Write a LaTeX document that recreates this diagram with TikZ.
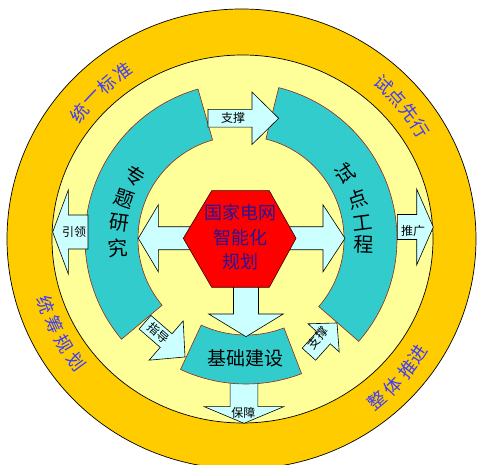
\documentclass[tikz,border=0pt]{standalone}
\usepackage{fontspec}
\newfontfamily\cjk{Noto Sans CJK SC}
\definecolor{ringorange}{RGB}{255,204,0}
\definecolor{ringyellow}{RGB}{255,255,153}
\definecolor{tealfill}{RGB}{51,204,204}
\definecolor{tealedge}{RGB}{150,40,20}
\definecolor{arrowcyan}{RGB}{204,255,255}
\definecolor{hexred}{RGB}{255,0,0}
\definecolor{hexblue}{RGB}{40,20,150}
\definecolor{ringblue}{RGB}{60,60,255}
\newcommand{\blockarr}[7]{%
  \begin{scope}[shift={(#1,#2)},rotate=#3]
    \draw[arrowshape] (0,-#7) -- ({#4-#5},-#7) -- ({#4-#5},-#6) -- (#4,0) -- ({#4-#5},#6) -- ({#4-#5},#7) -- (0,#7) -- cycle;
  \end{scope}}
\begin{document}
\begin{tikzpicture}[x=1pt,y=1pt,
  arrowshape/.style={fill=arrowcyan,draw=black,line width=0.6pt,line join=miter},
  tealshape/.style={fill=tealfill,draw=tealedge,line width=0.6pt},
  lbl/.style={font=\cjk\fontsize{12}{12}\selectfont,inner sep=0pt},
  ringtxt/.style={font=\cjk\fontsize{18}{18}\selectfont,text=ringblue,inner sep=0pt},
  arctxt/.style={font=\cjk\fontsize{20}{20}\selectfont,inner sep=0pt}]
\useasboundingbox (0,0) rectangle (477,465);
% rings
\draw[fill=ringorange,line width=0.7pt] (241.5,226) ellipse[x radius=234.5,y radius=230];
\draw[fill=ringyellow,line width=0.7pt] (242.5,226) ellipse[x radius=190.5,y radius=184];
% teal arcs
\begin{scope}[shift={(241,226)}]
  \draw[tealshape] (106:156) arc[start angle=106,end angle=220,radius=156] -- (220:103) arc[start angle=220,end angle=106,radius=103] -- cycle;
  \draw[tealshape] (-41:156) arc[start angle=-41,end angle=76,radius=156] -- (76:103) arc[start angle=76,end angle=-41,radius=103] -- cycle;
\end{scope}
% bottom arrow (baozhang) under the base block
\blockarr{244}{90}{-90}{48.3}{16.6}{39.7}{13.9}
% base block
\begin{scope}[shift={(246,236)}]
  \draw[tealshape] (-115:155) arc[start angle=-115,end angle=-69,radius=155] -- (-69:106) arc[start angle=-69,end angle=-115,radius=106] -- cycle;
\end{scope}
% arrows from hexagon
\blockarr{195}{226.7}{180}{56.7}{20}{33.5}{11.5}
\blockarr{285}{226.7}{0}{60}{22}{33.5}{11.5}
\blockarr{246}{185}{-90}{56.7}{22.7}{37.3}{12.5}
% hexagon
\draw[fill=hexred,draw=black!80!red,line width=0.6pt] (211.7,274.3) -- (269.3,274.3) -- (296,226.7) -- (269.3,177.7) -- (211.7,177.7) -- (183.3,226.7) -- cycle;
% small arrows
\blockarr{208}{346.7}{0}{70.7}{26.7}{26.2}{8.9}
\blockarr{88}{233}{180}{35.3}{15.6}{42}{17}
\blockarr{397.3}{238}{0}{36}{16.6}{37.9}{12.5}
\blockarr{145}{142.8}{-41}{53}{25}{26}{9}
\blockarr{308.9}{110.8}{48}{42}{20}{21}{9}
% centre texts
\node[font=\cjk\fontsize{18}{24.5}\selectfont,text=hexblue,align=center,inner sep=0pt] (core) at (240,227.5) {国家电网\\智能化\\规划};
\node[arctxt,font=\cjk\fontsize{19}{19}\selectfont] (base) at (245,107) {基础建设};
% arrow labels
\node[lbl] (lzc1) at (233,347) {支撑};
\node[lbl] (lyl) at (74,233.3) {引领};
\node[lbl] (ltg) at (413,234.3) {推广};
\node[lbl,rotate=-41] (lzd) at (158.3,131.7) {指导};
\node[lbl,rotate=50] (lzc2) at (318,127) {支撑};
\node[lbl] (lbz) at (243.3,51.7) {保障};
% arc texts
\begin{scope}[shift={(241,226)}]
  \node[arctxt,rotate=-30.7] (z1) at (149.3:123) {专};
  \node[arctxt,rotate=-18.8] (z2) at (161.2:123) {题};
  \node[arctxt,rotate=-7.4] (z3) at (172.6:123) {研};
  \node[arctxt,rotate=4.2] (z4) at (184.2:123) {究};
  \node[arctxt,rotate=31.9] (s1) at (31.9:123) {试};
  \node[arctxt,rotate=18.9] (s2) at (18.9:123) {点};
  \node[arctxt,rotate=7.4] (s3) at (7.4:123) {工};
  \node[arctxt,rotate=-2.7] (s4) at (-2.7:123) {程};
\end{scope}
% ring texts
\begin{scope}[shift={(241.5,226)}]
  \node[ringtxt,rotate=52] (a1) at (142:205) {统};
  \node[ringtxt,rotate=46.5] (a2) at (136.5:205) {一};
  \node[ringtxt,rotate=41] (a3) at (131:205) {标};
  \node[ringtxt,rotate=35.5] (a4) at (125.5:205) {准};
  \node[ringtxt,rotate=-42.5] (b1) at (47.5:210) {试};
  \node[ringtxt,rotate=-47.7] (b2) at (42.3:210) {点};
  \node[ringtxt,rotate=-53] (b3) at (37:210) {先};
  \node[ringtxt,rotate=-58.2] (b4) at (31.8:210) {行};
  \node[ringtxt,rotate=-71.5] (c1) at (198.5:206) {统};
  \node[ringtxt,rotate=-65.5] (c2) at (204.5:206) {筹};
  \node[ringtxt,rotate=-59.5] (c3) at (210.5:206) {规};
  \node[ringtxt,rotate=-53.5] (c4) at (216.5:206) {划};
  \node[ringtxt,rotate=40] (d1) at (-50:211) {整};
  \node[ringtxt,rotate=45.8] (d2) at (-44.2:211) {体};
  \node[ringtxt,rotate=51.9] (d3) at (-38.1:211) {推};
  \node[ringtxt,rotate=56.8] (d4) at (-33.2:211) {进};
\end{scope}
\end{tikzpicture}
\end{document}
